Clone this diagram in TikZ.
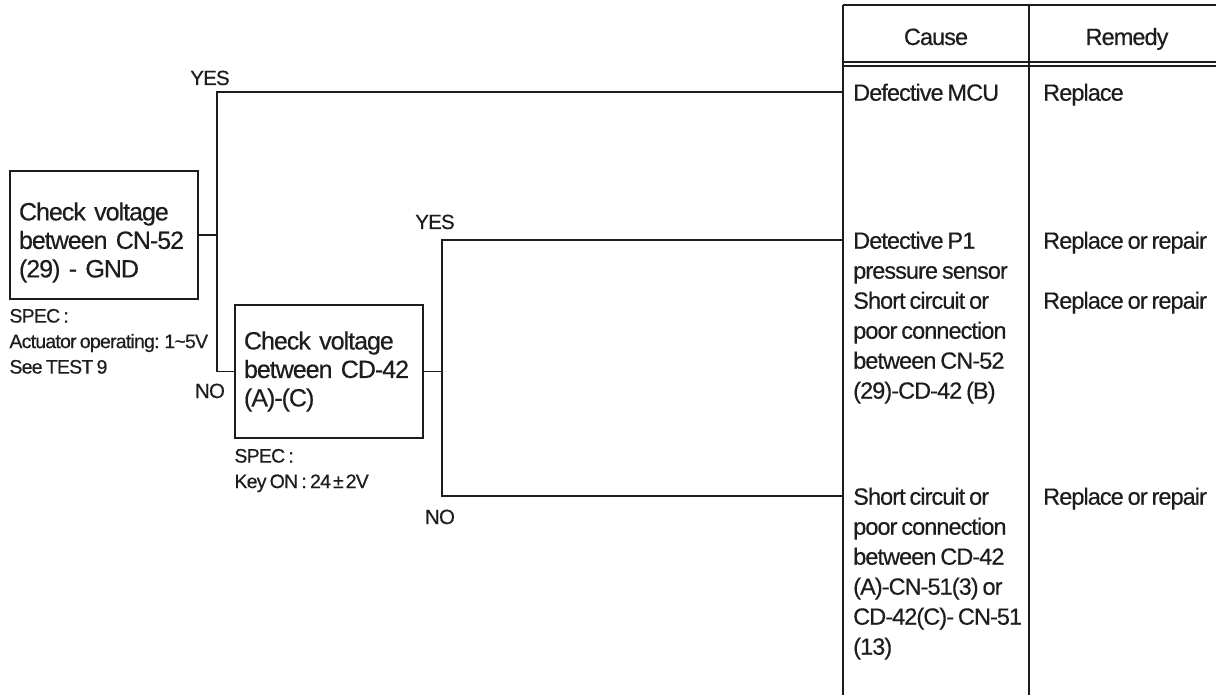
\documentclass[tikz,border=0pt]{standalone}
\usepackage{fontspec}
\setmainfont[LetterSpace=-4.0, WordSpace=0.7, FakeBold=0.4]{Liberation Sans}
\usetikzlibrary{positioning}
\definecolor{ink}{HTML}{1E1C1C}

\begin{document}
\begin{tikzpicture}[x=1pt, y=-1pt, every node/.style={text=ink},
	link/.style={draw=ink, line width=1.3pt},
	check/.style={draw=ink, line width=1.5pt, align=left, text width=170pt, inner xsep=9pt,
		minimum width=188pt, font=\fontsize{25}{28.5}\selectfont},
	spec/.style={align=left, inner sep=0pt, font=\fontsize{19.5}{25.5}\selectfont},
	yesno/.style={anchor=base, inner sep=0pt, font=\fontsize{20.5}{24}\selectfont},
	cell/.style={anchor=north west, align=left, inner sep=0pt, font=\fontsize{23.5}{30}\selectfont}]
	\path[use as bounding box, fill=white] (0,0) rectangle (1216,695);
	% table
	\draw[link] (843,5) -- (1216,5);
	\draw[link] (843,62) -- (1216,62);
	\draw[link] (843,66) -- (1216,66);
	\draw[link, line width=1.9pt] (843,5) -- (843,695);
	\draw[link] (1029,5) -- (1029,695);
	\node[cell, anchor=base] (cause) at (936,45) {Cause};
	\node[cell, anchor=base] (remedy) at (1127,45) {Remedy};
	\coordinate (mcuin) at (843,92);
	\coordinate (p1in) at (843,240);
	\coordinate (cdin) at (843,496);
	\node[cell] (mcu) at (853,83.5) {Defective MCU};
	\node[cell] (p1) at (853,231.5) {Detective P1\\pressure sensor\\Short circuit or\\poor connection\\between CN-52\\(29)-CD-42 (B)};
	\node[cell] (cd42) at (853,487.5) {Short circuit or\\poor connection\\between CD-42\\(A)-CN-51(3) or\\CD-42(C)- CN-51\\(13)};
	\node[cell] (fix1) at (1043,83.5) {Replace};
	\node[cell] (fix2) at (1043,231.5) {Replace or repair};
	\node[cell] (fix3) at (1043,291.5) {Replace or repair};
	\node[cell] (fix4) at (1043,487.5) {Replace or repair};
	% checks
	\node[check, minimum height=128pt] (box1) at (104,235) {\rule{0pt}{33pt}Check voltage\\between CN-52\\(29) - GND};
	\node[spec, below right=9pt and 0pt of box1.south west] (spec1) {SPEC :\\Actuator operating: 1\textasciitilde5V\\See TEST 9};
	\node[check, minimum height=133pt] (box2) at (329,371.5) {Check voltage\\between CD-42\\(A)-(C)};
	\node[spec, below right=10pt and 0pt of box2.south west] (spec2) {SPEC :\\Key ON : 24\kern2pt±\kern2pt2V};
	\coordinate (fork1) at (217,92);
	\coordinate (fork2) at (442,240);
	\draw[link] (box1.east) -| (fork1) -- (mcuin);
	\draw[link] (box1.east -| fork1) |- (box2.west);
	\draw[link] (box2.east) -| (fork2) -- (p1in);
	\draw[link] (box2.east -| fork2) |- (cdin);
	\node[yesno] (yes1) at (210,85) {YES};
	\node[yesno] (no1) at (210,398) {NO};
	\node[yesno] (yes2) at (435,229) {YES};
	\node[yesno] (no2) at (440,524) {NO};
\end{tikzpicture}
\end{document}
